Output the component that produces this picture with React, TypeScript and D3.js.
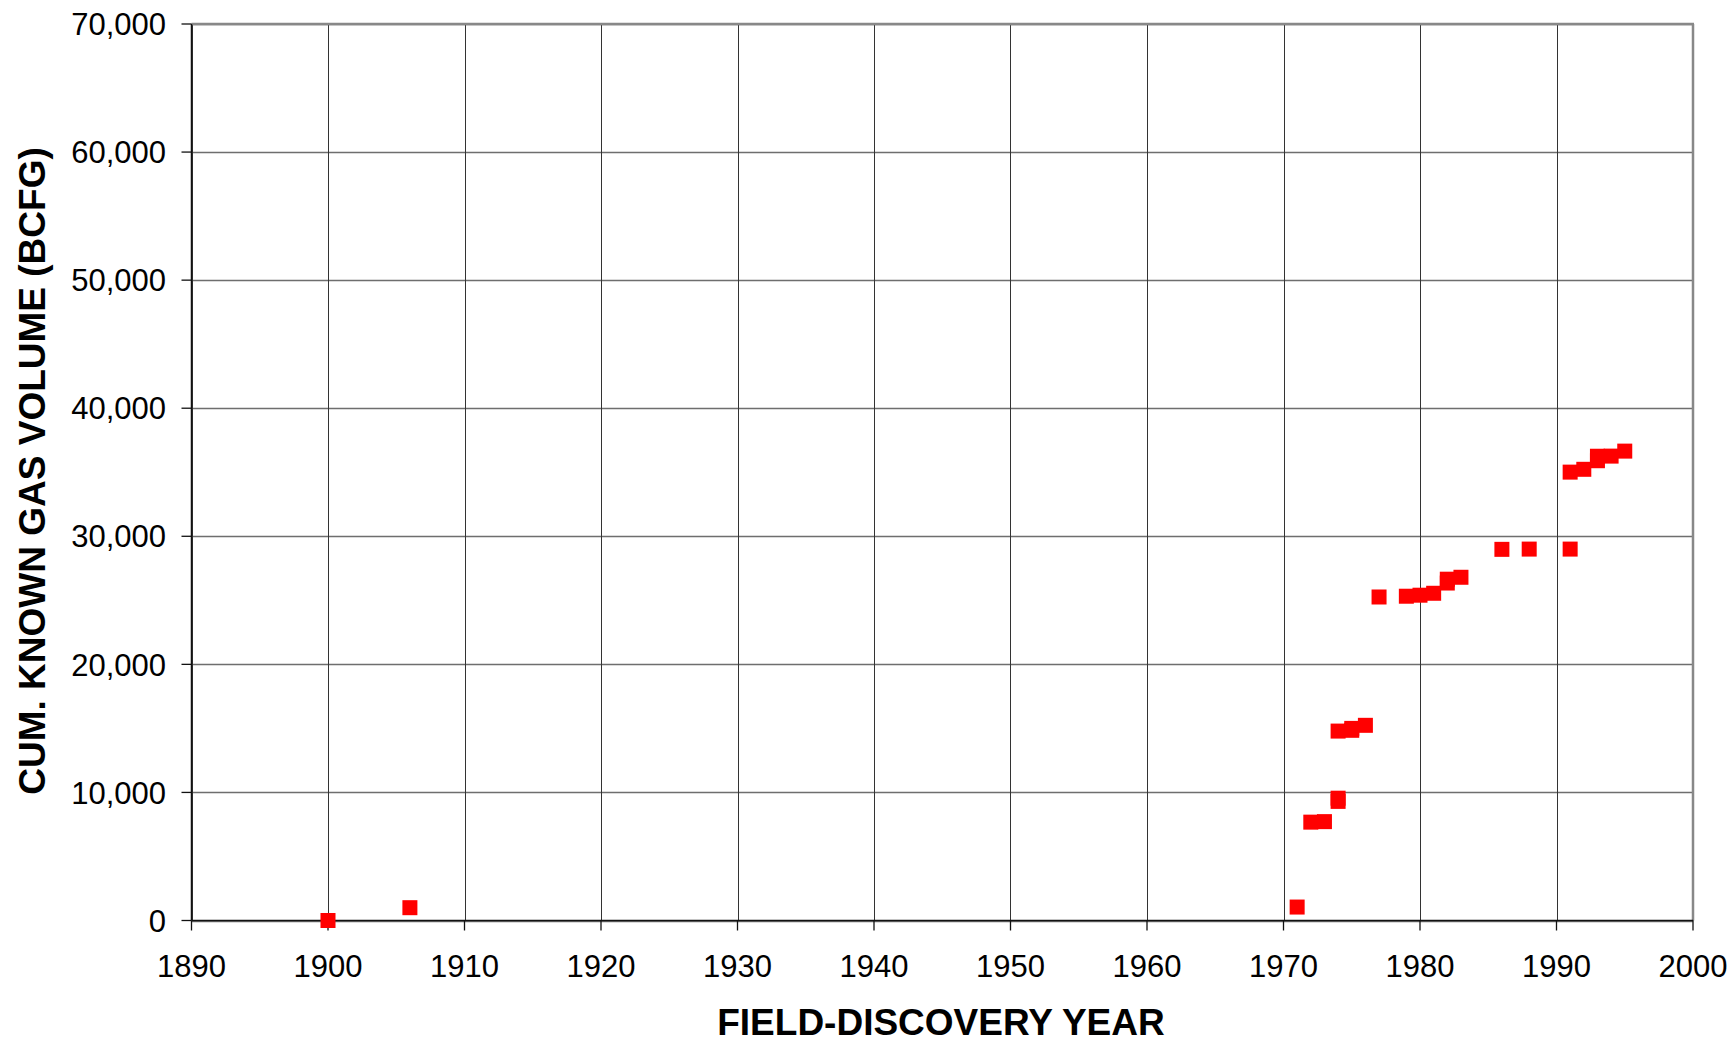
import React from "react";
import * as d3 from "d3";

const years: number[] = [1900, 1906, 1971, 1972, 1973, 1974, 1974, 1974, 1975, 1975, 1976, 1977, 1979, 1980, 1981, 1982, 1982, 1983, 1986, 1988, 1991, 1991, 1992, 1993, 1993, 1994, 1995];
const volumes: number[] = [0, 1000, 1050, 7680, 7720, 9300, 9550, 14790, 14850, 15000, 15240, 25260, 25320, 25400, 25550, 26350, 26650, 26800, 28980, 29000, 29000, 35010, 35230, 35900, 36250, 36260, 36650];
const xTicks: number[] = [1890, 1900, 1910, 1920, 1930, 1940, 1950, 1960, 1970, 1980, 1990, 2000];
const yTicks: number[] = [0, 10000, 20000, 30000, 40000, 50000, 60000, 70000];
const xTitle = "FIELD-DISCOVERY YEAR";
const yTitle = "CUM. KNOWN GAS VOLUME (BCFG)";

export default function App() {
  const W = 1734, H = 1042;
  const L = 191.5, R = 1693, T = 24, B = 920.5;
  const x = d3.scaleLinear().domain([1890, 2000]).range([L, R]);
  const y = d3.scaleLinear().domain([0, 70000]).range([B, T]);
  const fmt = d3.format(",");
  const font = "'Liberation Sans', Arial, sans-serif";
  const ms = 15;
  return (
    <svg width={W} height={H} style={{ position: "absolute", left: 0, top: 0, background: "#fff" }} fontFamily={font}>
      <rect x={0} y={0} width={W} height={H} fill="#fff" />
      {yTicks.map((t) => (
        <line key={"h" + t} x1={L} x2={R} y1={Math.round(y(t)) + 0.5} y2={Math.round(y(t)) + 0.5} stroke="#6e6e6e" strokeWidth={1.3} />
      ))}
      {xTicks.map((t) => (
        <line key={"v" + t} x1={Math.round(x(t)) + 0.5} x2={Math.round(x(t)) + 0.5} y1={T} y2={B} stroke="#333" strokeWidth={1} />
      ))}
      <line x1={L} x2={R + 1} y1={T} y2={T} stroke="#888" strokeWidth={2.5} />
      <line x1={R} x2={R} y1={T} y2={B} stroke="#888" strokeWidth={2.5} />
      <line x1={L} x2={L} y1={T} y2={B} stroke="#111" strokeWidth={1.5} />
      <line x1={L} x2={R} y1={B} y2={B} stroke="#111" strokeWidth={1.5} />
      {yTicks.map((t) => (
        <g key={"yt" + t}>
          <line x1={L - 10} x2={L} y1={y(t)} y2={y(t)} stroke="#111" strokeWidth={1.3} />
          <text x={166} y={y(t)} dy="0.36em" textAnchor="end" fontSize={31} fill="#000">{fmt(t)}</text>
        </g>
      ))}
      {xTicks.map((t) => (
        <g key={"xt" + t}>
          <line x1={x(t)} x2={x(t)} y1={B} y2={B + 10} stroke="#111" strokeWidth={1.3} />
          <text x={x(t)} y={977} textAnchor="middle" fontSize={31} fill="#000">{t}</text>
        </g>
      ))}
      {years.map((yr, i) => (
        <rect key={"p" + i} x={x(yr) - ms / 2} y={y(volumes[i]) - ms / 2} width={ms} height={ms} fill="#ff0000" />
      ))}
      <text x={941} y={1035} textAnchor="middle" fontSize={37} fontWeight="bold" fill="#000">{xTitle}</text>
      <text transform={`translate(45, 471) rotate(-90)`} textAnchor="middle" fontSize={37} fontWeight="bold" fill="#000">{yTitle}</text>
    </svg>
  );
}
